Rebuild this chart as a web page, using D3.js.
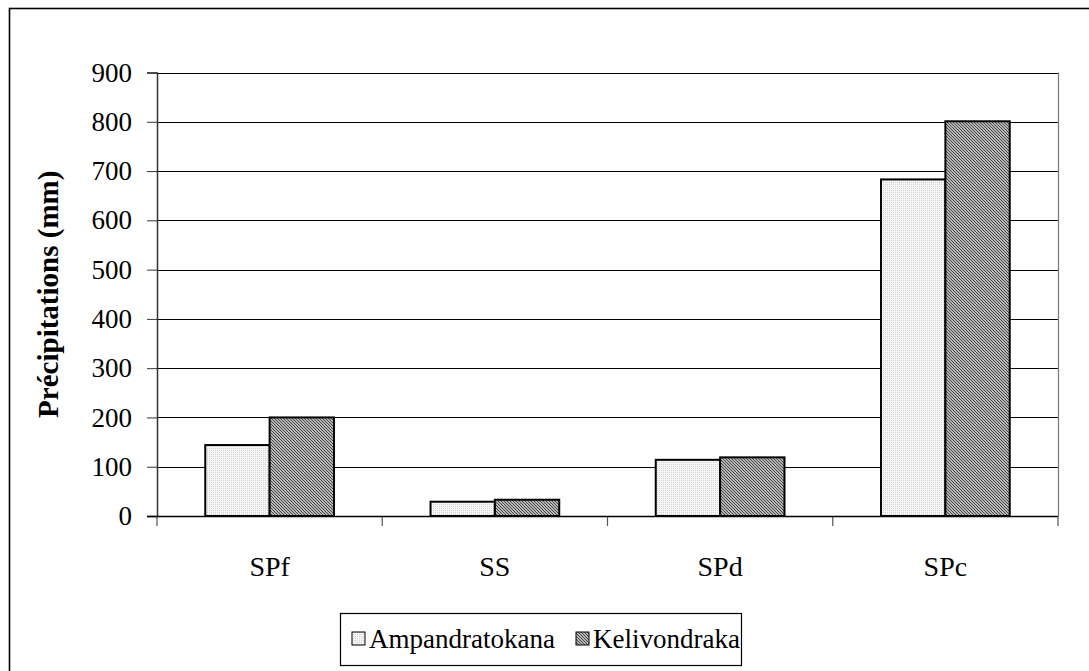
<!DOCTYPE html>
<html><head><meta charset="utf-8">
<script src="https://cdn.jsdelivr.net/npm/d3@7"></script>
<style>body{margin:0;background:#fff}svg{display:block}text{font-family:"Liberation Serif","Times New Roman",serif;fill:#000}</style>
</head><body>
<script>
const categories = ["SPf", "SS", "SPd", "SPc"];
const seriesNames = ["Ampandratokana", "Kelivondraka"];
const ampandratokana = [144, 29, 114, 683];
const kelivondraka = [200, 33, 119, 801];
const yTicks = [0, 100, 200, 300, 400, 500, 600, 700, 800, 900];

const W = 1089, H = 671;
const m = {left: 157, right: 1058, top: 72.5, bottom: 516};
const FS = 27;
const FF = "'Liberation Serif', 'Times New Roman', serif";
const svg = d3.select("body").append("svg").attr("width", W).attr("height", H);
const defs = svg.append("defs");

// light dotted pattern
const p1 = defs.append("pattern").attr("id","pA").attr("patternUnits","userSpaceOnUse").attr("width",2).attr("height",2);
p1.append("rect").attr("width",2).attr("height",2).attr("fill","#f6f6f6");
p1.append("rect").attr("x",1).attr("y",0).attr("width",1).attr("height",1).attr("fill","#d2d2d2");
// diagonal dense pattern
const p2 = defs.append("pattern").attr("id","pK").attr("patternUnits","userSpaceOnUse").attr("width",3).attr("height",3);
p2.append("rect").attr("width",3).attr("height",3).attr("fill","#e0e0e0");
p2.append("path").attr("d","M-1,-1 L4,4 M-1,2 L1,4 M2,-1 L4,1").attr("stroke","#444").attr("stroke-width",1.1);

// outer frame
svg.append("rect").attr("x",9.5).attr("y",8.5).attr("width",1200).attr("height",800)
  .attr("fill","none").attr("stroke","#000").attr("stroke-width",1.6);

const x = d3.scaleBand().domain(categories).range([m.left, m.right]);
const y = d3.scaleLinear().domain([0, 900]).range([m.bottom, m.top]);
const bw = x.bandwidth() / 3.5;
const xs = d3.scaleBand().domain(seriesNames).range([0, 2*bw]);

// gridlines
svg.append("g").selectAll("line").data(yTicks.filter(d=>d>0)).join("line")
  .attr("x1", m.left).attr("x2", m.right)
  .attr("y1", d=>Math.round(y(d))+0.5).attr("y2", d=>Math.round(y(d))+0.5)
  .attr("stroke","#000").attr("stroke-width",1);
// right border
svg.append("line").attr("x1",m.right+0.5).attr("x2",m.right+0.5).attr("y1",m.top).attr("y2",m.bottom)
  .attr("stroke","#777").attr("stroke-width",1.2);

// y axis
const yAxis = d3.axisLeft(y).tickValues(yTicks).tickSize(10).tickPadding(15).tickFormat(d3.format("d"));
const gy = svg.append("g").attr("transform",`translate(${m.left},0)`).call(yAxis);
gy.attr("font-size", null).attr("font-family", null);
gy.select(".domain").attr("stroke","#333").attr("stroke-width",1.5);
gy.selectAll(".tick line").attr("stroke","#333");
gy.selectAll("text").attr("font-size",FS).style("font-family",FF);

// x axis
const xAxis = d3.axisBottom(x).tickSize(0).tickPadding(40);
const gx = svg.append("g").attr("transform",`translate(0,${m.bottom})`).call(xAxis);
gx.attr("font-size", null).attr("font-family", null);
gx.select(".domain").remove();
gx.selectAll("text").attr("font-size",28).style("font-family",FF);
// category boundary ticks
svg.append("g").selectAll("line").data(d3.range(categories.length+1)).join("line")
  .attr("x1", i=>m.left + i*x.step()).attr("x2", i=>m.left + i*x.step())
  .attr("y1", m.bottom).attr("y2", m.bottom+10).attr("stroke","#555").attr("stroke-width",1.2);

// bars
const data = categories.map((c,i)=>({c, vals:[ampandratokana[i], kelivondraka[i]]}));
const fills = ["url(#pA)","url(#pK)"];
const g = svg.append("g");
data.forEach(d=>{
  const x0 = x(d.c) + (x.bandwidth() - 2*bw)/2;
  d.vals.forEach((v,j)=>{
    g.append("rect").attr("x", x0 + xs(seriesNames[j])).attr("y", y(v))
      .attr("width", xs.bandwidth()).attr("height", y(0)-y(v))
      .attr("fill", fills[j]).attr("stroke","#000").attr("stroke-width",2);
  });
});

// x baseline
svg.append("line").attr("x1",m.left-10).attr("x2",m.right).attr("y1",m.bottom+0.5).attr("y2",m.bottom+0.5)
  .attr("stroke","#000").attr("stroke-width",1.5);

// y label
svg.append("text").attr("transform",`translate(58,${(m.top+m.bottom)/2}) rotate(-90)`)
  .attr("text-anchor","middle").attr("font-size",29).attr("font-weight","bold")
  .style("font-family",FF).text("Précipitations (mm)");

// legend
const lg = svg.append("g");
lg.append("rect").attr("x",340.5).attr("y",613.5).attr("width",401).attr("height",52)
  .attr("fill","#fff").attr("stroke","#000").attr("stroke-width",1.2);
const lx = [352, 576];
seriesNames.forEach((n,j)=>{
  lg.append("rect").attr("x",lx[j]).attr("y",632).attr("width",13).attr("height",13)
    .attr("fill",fills[j]).attr("stroke","#000").attr("stroke-width",1);
  lg.append("text").attr("x",lx[j]+17).attr("y",648).attr("font-size",FS)
    .style("font-family",FF).text(n);
});
</script>
</body></html>
